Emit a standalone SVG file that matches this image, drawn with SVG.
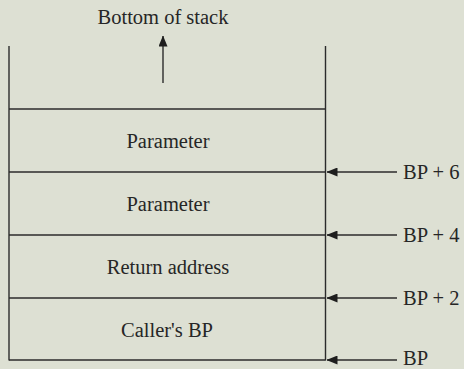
<svg xmlns="http://www.w3.org/2000/svg" width="464" height="369" viewBox="0 0 464 369">
  <style>
    .bg { fill: #dde0d3; }
    .ln { stroke: #2b2b2b; stroke-width: 1.4; fill: none; }
    .t { font-family: "Liberation Serif", "Times New Roman", serif; font-size: 20.5px; fill: #262626; }
    .c { text-anchor: middle; }
  </style>
  <defs>
    <marker id="ah" markerWidth="11" markerHeight="9" refX="10.5" refY="4.5" orient="auto" markerUnits="userSpaceOnUse">
      <path d="M0,0 L11,4.5 L0,9 Z" fill="#1e1e1e"/>
    </marker>
  </defs>
  <rect class="bg" x="0" y="0" width="464" height="369"/>

  <g id="stack-frame">
    <line class="ln" x1="9" y1="46" x2="9" y2="360.5"/>
    <line class="ln" x1="325.5" y1="46" x2="325.5" y2="360.5"/>
    <line class="ln" x1="9" y1="109" x2="325.5" y2="109"/>
  </g>

  <g id="bottom-of-stack">
    <text class="t c" x="163" y="24">Bottom of stack</text>
  </g>

  <g id="param1">
    <line class="ln" x1="9" y1="172" x2="325.5" y2="172"/>
    <text class="t c" x="168" y="148">Parameter</text>
  </g>
  <g id="param2">
    <line class="ln" x1="9" y1="235" x2="325.5" y2="235"/>
    <text class="t c" x="168" y="211">Parameter</text>
  </g>
  <g id="return-address">
    <line class="ln" x1="9" y1="298" x2="325.5" y2="298"/>
    <text class="t c" x="168" y="274">Return address</text>
  </g>
  <g id="callers-bp">
    <line class="ln" x1="9" y1="360" x2="325.5" y2="360"/>
    <text class="t c" x="167" y="337">Caller's BP</text>
  </g>

  <g id="label-bp6"><text class="t" x="403" y="179">BP + 6</text></g>
  <g id="label-bp4"><text class="t" x="403" y="242">BP + 4</text></g>
  <g id="label-bp2"><text class="t" x="403" y="305">BP + 2</text></g>
  <g id="label-bp"><text class="t" x="403" y="365">BP</text></g>

  <g id="connectors">
    <line class="ln" x1="163" y1="83" x2="163" y2="36" marker-end="url(#ah)"/>
    <line class="ln" x1="397" y1="172" x2="327" y2="172" marker-end="url(#ah)"/>
    <line class="ln" x1="397" y1="235" x2="327" y2="235" marker-end="url(#ah)"/>
    <line class="ln" x1="397" y1="298" x2="327" y2="298" marker-end="url(#ah)"/>
    <line class="ln" x1="397" y1="360" x2="327" y2="360" marker-end="url(#ah)"/>
  </g>
</svg>
